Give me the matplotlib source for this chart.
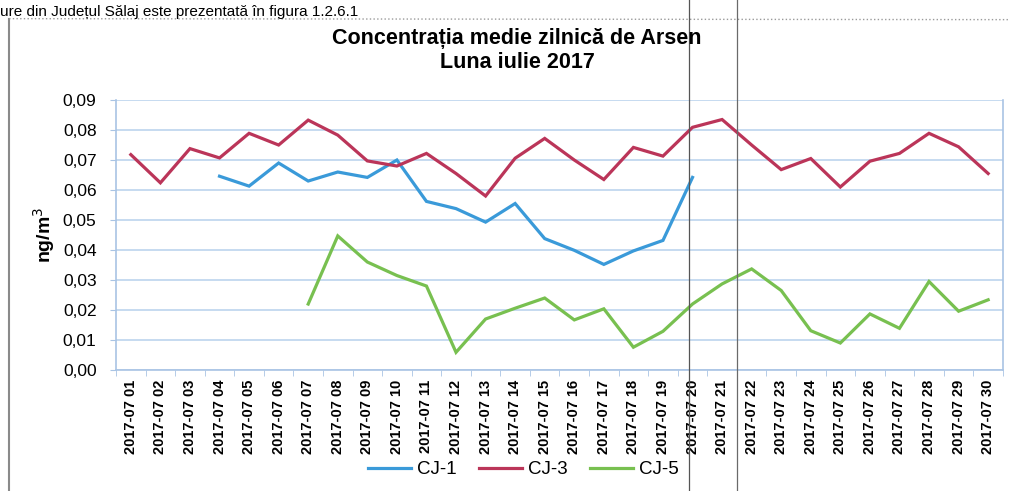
import numpy as np
import matplotlib
matplotlib.use("Agg")
import matplotlib.pyplot as plt
from matplotlib.lines import Line2D

plt.rcParams['font.family'] = ['Liberation Sans', 'DejaVu Sans']

nan = np.nan
days = list(range(1, 31))
day_labels = [f"2017-07 {d:02d}" for d in days]

cj1 = [nan, nan, nan, 0.0646, 0.0613, 0.0690, 0.0630, 0.0660, 0.0642, 0.0700,
       0.0562, 0.0538, 0.0493, 0.0555, 0.0438, 0.0399, 0.0352, 0.0397, 0.0432, 0.0642,
       nan, nan, nan, nan, nan, nan, nan, nan, nan, nan]
cj3 = [0.0718, 0.0624, 0.0738, 0.0707, 0.0789, 0.0750, 0.0833, 0.0783, 0.0697, 0.0680,
       0.0722, 0.0655, 0.0580, 0.0706, 0.0772, 0.0700, 0.0635, 0.0742, 0.0713, 0.0809,
       0.0835, 0.0750, 0.0668, 0.0705, 0.0610, 0.0696, 0.0722, 0.0789, 0.0744, 0.0655]
cj5 = [nan, nan, nan, nan, nan, nan, 0.0220, 0.0447, 0.0360, 0.0315,
       0.0280, 0.0059, 0.0170, 0.0206, 0.0240, 0.0167, 0.0204, 0.0076, 0.0129, 0.0220,
       0.0287, 0.0337, 0.0265, 0.0131, 0.0090, 0.0187, 0.0139, 0.0295, 0.0196, 0.0234]

series = [("CJ-1", cj1, "#3a9ad9"), ("CJ-3", cj3, "#bb3559"), ("CJ-5", cj5, "#78c050")]
yticks = [0.00, 0.01, 0.02, 0.03, 0.04, 0.05, 0.06, 0.07, 0.08, 0.09]

grid_c = "#bcd4ee"
axis_c = "#a9c4e4"

fig = plt.figure(figsize=(10.10, 4.91), dpi=100)
ax = fig.add_axes([0.1149, 0.2464, 0.8781, 0.5499])

x = np.arange(len(days))
for name, vals, col in series:
    ax.plot(x, vals, color=col, lw=2.3, label=name, solid_joinstyle='miter')

ax.set_xlim(-0.5, len(days) - 0.5)
ax.set_ylim(0, 0.09)
ax.set_yticks(yticks)
ax.set_yticklabels([f"{v:.2f}".replace(".", ",") for v in yticks], fontsize=12.5)
ax.yaxis.grid(True, color=grid_c, lw=1.2)
ax.set_axisbelow(True)

ax.set_xticks(x)
ax.set_xticklabels(day_labels, rotation=90, fontsize=10.5, fontweight='bold')
ax.set_xticks(np.arange(-0.5, len(days), 1), minor=True)
ax.tick_params(axis='x', which='major', length=0, pad=7)
ax.tick_params(axis='x', which='minor', length=4, color=axis_c, direction='out')
ax.tick_params(axis='y', length=4, color=axis_c, pad=10)

for s in ['left', 'bottom', 'right']:
    ax.spines[s].set_color(axis_c)
    ax.spines[s].set_linewidth(1.2)
ax.spines['top'].set_visible(False)

ax.set_ylabel("ng/m$^3$", fontsize=14, fontweight='bold', labelpad=4)

fig.text(0.512, 0.921, "Concentrația medie zilnică de Arsen", ha='center', va='center',
         fontsize=15.5, fontweight='bold')
fig.text(0.512, 0.873, "Luna iulie 2017", ha='center', va='center',
         fontsize=15.5, fontweight='bold')

handles = [Line2D([], [], color=c, lw=2.3) for _, _, c in series]
fig.legend(handles, [n for n, _, _ in series], loc='center', bbox_to_anchor=(0.518, 0.043),
           ncol=3, frameon=False, fontsize=13.5, handlelength=2.3, columnspacing=1.2,
           handletextpad=0.3)

# scanned page context: caption line above, chart frame and fold lines
fig.text(0.0, 0.990, "ure din Județul Sălaj este prezentată în figura 1.2.6.1",
         ha='left', va='top', fontsize=11)
fig.add_artist(Line2D([0.009, 0.009], [0.0, 0.962], color="#8a8a8a", lw=1.5))
fig.add_artist(Line2D([0.009, 1.0], [0.962, 0.960], color="#9a9a9a", lw=1, ls=':'))
fig.add_artist(Line2D([0.682, 0.682], [0.0, 1.0], color="#555555", lw=0.9))
fig.add_artist(Line2D([0.730, 0.730], [0.0, 1.0], color="#6a6a6a", lw=0.9))

fig.savefig("out.png", dpi=100)
